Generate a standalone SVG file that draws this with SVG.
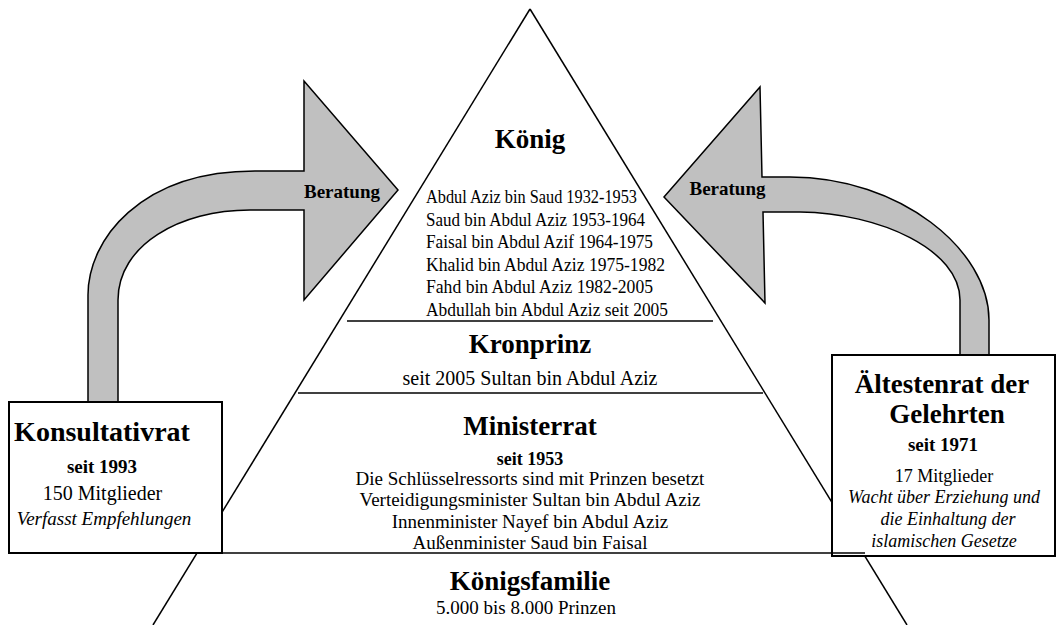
<svg xmlns="http://www.w3.org/2000/svg" width="1056" height="625" viewBox="0 0 1056 625">
<style>
text{font-family:"Liberation Serif","Times New Roman",serif;fill:#000;text-anchor:middle}
.h{font-weight:bold;font-size:27px}
.b{font-weight:bold;font-size:19px}
.r{font-size:19px}
.i{font-style:italic;font-size:18px}
.k{font-size:18px;text-anchor:start}
.ln{stroke:#000;stroke-width:1.5;fill:none}
.box{fill:#fff;stroke:#000;stroke-width:2}
.arr{fill:#c0c0c0;stroke:#000;stroke-width:1.5;stroke-linejoin:miter}
</style>
<rect width="1056" height="625" fill="#fff"/>
<g id="pyramid">
<line class="ln" x1="530" y1="9" x2="153" y2="625"/>
<line class="ln" x1="530" y1="9" x2="907" y2="625"/>
<line class="ln" x1="347" y1="321" x2="713" y2="321"/>
<line class="ln" x1="298" y1="393" x2="763" y2="393"/>
</g>
<g id="koenig">
<text class="h" x="530" y="148">König</text>
<text class="k" x="426" y="203" textLength="211" lengthAdjust="spacingAndGlyphs">Abdul Aziz bin Saud 1932-1953</text>
<text class="k" x="426" y="225.5" textLength="219" lengthAdjust="spacingAndGlyphs">Saud bin Abdul Aziz 1953-1964</text>
<text class="k" x="426" y="248" textLength="227" lengthAdjust="spacingAndGlyphs">Faisal bin Abdul Azif 1964-1975</text>
<text class="k" x="426" y="270.5" textLength="239" lengthAdjust="spacingAndGlyphs">Khalid bin Abdul Aziz 1975-1982</text>
<text class="k" x="426" y="293" textLength="227" lengthAdjust="spacingAndGlyphs">Fahd bin Abdul Aziz 1982-2005</text>
<text class="k" x="426" y="316" textLength="242" lengthAdjust="spacingAndGlyphs">Abdullah bin Abdul Aziz seit 2005</text>
</g>
<g id="kronprinz">
<text class="h" x="530" y="353">Kronprinz</text>
<text class="r" x="530" y="385" style="font-size:20px">seit 2005 Sultan bin Abdul Aziz</text>
</g>
<g id="ministerrat">
<text class="h" x="530" y="435">Ministerrat</text>
<text class="b" x="530" y="465" style="font-size:18px">seit 1953</text>
<text class="r" x="530" y="485">Die Schlüsselressorts sind mit Prinzen besetzt</text>
<text class="r" x="530" y="506">Verteidigungsminister Sultan bin Abdul Aziz</text>
<text class="r" x="530" y="527.5">Innenminister Nayef bin Abdul Aziz</text>
<text class="r" x="530" y="549">Außenminister Saud bin Faisal</text>
</g>
<g id="koenigsfamilie">
<text class="h" x="530" y="590">Königsfamilie</text>
<text class="r" x="526" y="614">5.000 bis 8.000 Prinzen</text>
</g>
<g id="connectors">
<path class="arr" d="M 88 402 L 88 295 C 88 240, 140 171, 255 171 L 304 171 L 304 81 L 398 190 L 304 300 L 304 210 L 250 210 C 180 210, 118 245, 118 300 L 118 402 Z"/>
<text class="b" x="342" y="198">Beratung</text>
<path class="arr" d="M 989 356 L 989 320 C 989 250, 900 177, 790 177 L 762 177 L 760 87 L 664 197 L 765 303 L 763 212 L 800 212 C 880 213, 960 250, 960 300 L 960 356 Z"/>
<text class="b" x="727.5" y="195">Beratung</text>
</g>
<g id="konsultativrat">
<rect class="box" x="9" y="402" width="213" height="151"/>
<text class="h" x="102" y="441" style="font-size:28px">Konsultativrat</text>
<text class="b" x="102" y="473">seit 1993</text>
<text class="r" x="102.5" y="500" style="font-size:20px">150 Mitglieder</text>
<text class="i" x="104" y="525" style="font-size:19px">Verfasst Empfehlungen</text>
</g>
<g id="aeltestenrat">
<rect class="box" x="832" y="355" width="223" height="201"/>
<text class="h" x="942" y="393">Ältestenrat der</text>
<text class="h" x="947" y="423">Gelehrten</text>
<text class="b" x="943" y="451">seit 1971</text>
<text class="r" x="944" y="482" style="font-size:18px">17 Mitglieder</text>
<text class="i" x="944" y="503">Wacht über Erziehung und</text>
<text class="i" x="948" y="525">die Einhaltung der</text>
<text class="i" x="944" y="547">islamischen Gesetze</text>
</g>
<line class="ln" x1="198" y1="553" x2="865" y2="553"/>
</svg>
